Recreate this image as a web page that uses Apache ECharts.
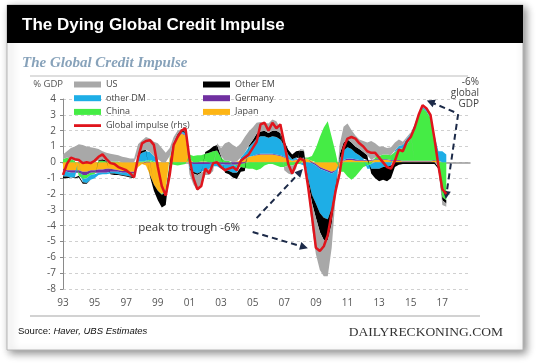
<!DOCTYPE html>
<html>
<head>
<meta charset="utf-8">
<script src="https://cdn.jsdelivr.net/npm/echarts@6/dist/echarts.min.js"></script>
<style>
html,body{margin:0;padding:0;background:#fff;}
#c{width:540px;height:363px;}
</style>
</head>
<body>
<div id="c"></div>
<script>
// Quarterly data, 1993 Q1 .. 2017 Q2 (% of GDP)
const startYear = 1993;
const endYear = 2018; // axis runs to 2018 Q4
const JAPAN = [
  -0.4,-0.5,-0.5,-0.5,  -0.5,-0.6,-0.6,-0.5,  -0.5,-0.45,-0.45,-0.4,  -0.4,-0.45,-0.5,-0.55,
  -0.55,-0.6,-0.6,-0.3, -0.1,-0.2,-0.8,-1.4,  -1.8,-2.0,-1.7,0.3,     1.2,1.6,1.8,1.7,
  0.2,0.0,0.0,0.05,     0.05,0.0,0.0,0.05,    0.0,0.0,0.0,0.0,        0.05,0.1,0.2,0.35,
  0.4,0.45,0.5,0.5,     0.5,0.5,0.45,0.4,     0.3,0.2,0.1,0.15,       0.2,0.25,0.2,0.1,
  -0.1,-0.3,-0.4,-0.5,  -0.6,-0.5,-0.3,0.1,   0.15,0.15,0.1,0.1,      0.1,0.1,0.1,0.15,
  0.15,0.15,0.15,0.1,   0.1,0.1,0.05,0.05,    0.05,0.05,0.05,0.05,    0.05,0.05,0.1,0.1,
  0.0,0.0
];
const GERMANY = [
  -0.1,-0.1,-0.15,-0.15, -0.15,-0.2,-0.2,-0.15, -0.15,-0.2,-0.2,-0.25, -0.2,-0.15,-0.1,-0.1,
  -0.1,-0.1,-0.1,0.0,    0.0,0.05,0.05,0.0,     0.0,0.0,0.0,0.0,       0.0,0.05,0.05,0.05,
  -0.05,-0.1,-0.1,-0.1,  -0.1,-0.1,-0.05,-0.05, -0.1,-0.15,-0.15,-0.15, -0.15,-0.1,-0.05,0.0,
  0.0,0.05,0.05,0.05,    0.05,0.05,0.05,0.05,   0.05,0.0,0.0,0.05,     0.05,0.05,0.0,-0.05,
  -0.1,-0.1,-0.1,-0.1,   -0.1,-0.05,0.0,0.05,   0.1,0.1,0.1,0.05,      0.05,0.05,0.05,0.05,
  0.05,0.05,0.05,0.05,   0.05,0.05,0.05,0.05,   0.05,0.05,0.05,0.05,   0.05,0.05,0.05,0.0,
  0.0,0.0
];
const CHINA = [
  0.2,0.3,0.2,0.1,       -0.2,-0.25,-0.2,-0.15, -0.1,0.1,0.1,0.05,     0.05,0.05,0.05,0.0,
  0.0,-0.05,-0.05,0.05,  0.05,0.05,0.1,0.05,    0.0,-0.05,-0.1,-0.1,   -0.15,-0.2,-0.15,-0.1,
  0.3,0.4,0.45,0.4,      0.5,0.6,0.7,0.7,       0.3,0.1,0.1,0.0,       -0.1,-0.2,-0.3,-0.4,
  -0.4,-0.5,-0.4,-0.2,   -0.1,-0.1,-0.2,-0.3,   -0.3,-0.2,-0.2,-0.1,   -0.1,0.0,0.1,0.3,
  0.9,1.6,2.2,2.6,       1.6,0.6,-0.3,-0.6,     -0.9,-1.1,-0.9,-0.6,   -0.3,-0.2,-0.1,0.1,
  0.2,0.3,0.3,0.3,       0.5,0.7,0.8,1.0,       1.4,2.1,2.9,3.3,       3.1,2.7,1.4,-0.3,
  -2.2,-2.4
];
const OTHER_DM = [
  -0.4,-0.3,-0.3,-0.3,   0.1,-0.2,-0.3,-0.3,    -0.25,-0.15,-0.1,-0.1, -0.1,-0.1,-0.15,-0.15,
  -0.2,-0.15,-0.15,0.4,  0.55,0.6,0.5,0.35,     0.2,0.0,-0.1,0.1,      0.1,0.1,0.1,0.1,
  -0.3,-0.5,-0.6,-0.5,   -0.4,-0.3,-0.2,-0.2,   -0.3,-0.4,-0.4,-0.5,   -0.4,0.2,0.4,0.6,
  0.8,1.0,1.1,1.1,       1.0,1.1,1.1,1.0,       0.7,0.3,0.1,0.1,       0.0,-0.2,-1.0,-2.0,
  -2.4,-2.8,-3.0,-3.0,   -2.2,-0.9,0.2,0.6,     0.7,0.6,0.4,0.3,       0.1,-0.2,-0.3,-0.4,
  -0.4,-0.3,-0.3,-0.2,   0.1,0.2,0.2,0.4,       0.3,0.2,0.1,0.1,       0.1,0.1,0.2,0.6,
  0.7,0.5
];
const OTHER_EM = [
  -0.1,-0.1,0.0,-0.05,   -0.1,-0.1,-0.05,0.0,   0.0,0.05,0.1,0.05,     -0.05,-0.1,-0.05,-0.05,
  -0.05,-0.05,-0.1,0.1,  0.15,0.1,-0.1,-0.4,    -0.6,-0.8,-0.8,-0.4,   0.0,0.05,0.05,0.1,
  -0.1,-0.1,-0.1,-0.05,  0.1,0.2,0.3,0.35,      0.1,-0.1,-0.2,-0.3,    -0.4,-0.3,-0.2,0.1,
  0.2,0.3,0.3,0.35,      0.3,0.35,0.4,0.4,      0.3,0.3,0.3,0.4,       0.5,0.4,-0.2,-0.5,
  -0.9,-1.2,-1.4,-1.3,   -1.0,-0.4,0.3,0.5,     0.5,0.4,0.4,0.4,       0.4,0.3,-0.3,-0.6,
  -0.8,-0.8,-0.9,-0.8,   -0.3,-0.15,-0.1,-0.1,  -0.1,-0.1,-0.1,-0.1,   -0.1,-0.1,-0.1,-0.1,
  -0.2,-0.2
];
const US = [
  0.3,0.4,0.7,0.9,       1.05,1.1,1.0,0.95,     0.9,0.7,0.5,0.5,       0.5,0.45,0.4,0.35,
  0.3,0.25,0.25,0.6,     0.65,0.8,0.85,0.9,     1.0,0.9,0.6,0.5,       0.3,0.2,0.1,0.15,
  -0.3,-0.7,-1.0,-0.9,   -0.3,-0.4,-0.3,0.1,    0.5,1.1,1.2,1.1,       0.9,0.9,1.0,0.9,
  0.8,0.7,0.6,0.5,       0.6,0.7,0.6,0.3,       -0.2,-0.5,-0.6,-0.3,   0.1,0.1,-0.5,-1.5,
  -2.3,-2.4,-2.3,-2.3,   -1.5,-0.3,0.6,1.0,     1.0,0.8,0.7,0.6,       0.7,0.8,1.2,0.9,
  0.6,0.5,0.4,0.5,       0.5,0.4,0.2,0.1,       0.1,0.0,0.0,0.0,       0.0,0.0,0.0,0.0,
  -0.3,-0.2
];
const GLOBAL_IMPULSE = [
  -0.8,-0.1,0.3,0.2,     0.15,-0.05,0.0,-0.05,  0.1,0.35,0.5,0.2,      -0.05,-0.1,-0.3,-0.4,
  -0.5,-0.7,-0.95,0.3,   1.2,1.35,1.4,1.1,      -0.3,-1.5,-2.1,-0.8,   1.1,1.6,2.0,2.15,
  0.25,-1.0,-1.7,-1.5,   -0.4,-0.7,-0.05,0.0,   -0.3,-0.5,-0.4,-0.3,   -0.5,0.1,0.3,0.5,
  0.9,1.3,2.4,2.5,       2.0,2.5,2.15,2.4,      1.2,-0.1,-0.7,-0.1,    0.25,0.1,-1.5,-3.4,
  -5.4,-5.6,-5.3,-4.6,   -3.2,-1.8,-0.7,0.9,    1.5,1.6,1.5,1.2,       1.0,0.7,0.6,0.6,
  0.3,0.0,-0.3,-0.4,     0.1,0.8,0.7,1.3,       1.6,2.2,3.0,3.6,       3.4,3.0,1.5,-0.2,
  -1.7,-2.0
];
const yTicks = { min: -8, max: 4, step: 1 };

// category list: one per quarter, labelled every second year
const quarters = [];
for (let y = startYear; y <= endYear; y++) for (let q = 1; q <= 4; q++) quarters.push(y + 'Q' + q);
const qIndex = t => (t - startYear) * 4; // decimal year -> category position (for annotations)

const chart = echarts.init(document.getElementById('c'), null, { renderer: 'canvas' });

function area(name, data, color) {
  return {
    name, type: 'line', stack: 'total', stackStrategy: 'samesign',
    data: data, symbol: 'none', showSymbol: false,
    lineStyle: { width: 0, color }, itemStyle: { color },
    areaStyle: { color, opacity: 1 }, emphasis: { disabled: true }, silent: true
  };
}

const legendText = { fontSize: 9, color: '#444', fontFamily: 'Open Sans', lineHeight: 11 };
const lineIcon = 'path://M0,0 L0,0 M0,6 L0,6 M0,1.6 L27,1.6 L27,4.4 L0,4.4 Z';

const option = {
  animation: false,
  textStyle: { fontFamily: 'Open Sans' },
  grid: { left: 63, right: 70, top: 99, bottom: 74 },
  legend: [
    { orient: 'vertical', left: 74, top: 79, padding: 0, itemGap: 2.7, itemWidth: 27, itemHeight: 6,
      selectedMode: false, textStyle: legendText,
      data: [{ name: 'US', icon: 'rect' }, { name: 'other DM', icon: 'rect' },
             { name: 'China', icon: 'rect' }, { name: 'Global impulse (rhs)', icon: lineIcon }] },
    { orient: 'vertical', left: 203, top: 79, padding: 0, itemGap: 2.7, itemWidth: 27, itemHeight: 6,
      selectedMode: false, textStyle: legendText,
      data: [{ name: 'Other EM', icon: 'rect' }, { name: 'Germany', icon: 'rect' },
             { name: 'Japan', icon: 'rect' }] }
  ],
  xAxis: [
    { type: 'category', data: quarters, boundaryGap: false,
      axisLine: { show: false, onZero: false }, axisTick: { show: false }, splitLine: { show: false },
      axisLabel: { fontSize: 10, color: '#555', margin: 9, interval: i => i % 8 === 0,
        formatter: v => v.slice(2, 4) } },
    { type: 'category', data: quarters, boundaryGap: false, position: 'bottom',
      axisLine: { show: true, onZero: true, lineStyle: { color: '#9a9a9a', width: 1.5 } },
      axisTick: { show: false }, axisLabel: { show: false }, splitLine: { show: false } }
  ],
  yAxis: {
    type: 'value', min: yTicks.min, max: yTicks.max, interval: yTicks.step,
    name: '% GDP', nameLocation: 'end', nameGap: 15,
    nameTextStyle: { align: 'right', verticalAlign: 'middle', fontSize: 9.5, color: '#555' },
    axisLine: { show: true, lineStyle: { color: '#8a8a8a', width: 1 } },
    axisTick: { show: true, length: 3, lineStyle: { color: '#8a8a8a' } },
    axisLabel: { fontSize: 10, color: '#555', margin: 7 },
    splitLine: { show: true, lineStyle: { color: '#d0d0d0', type: [3, 3], width: 1 } }
  },
  series: [
    area('Japan', JAPAN, '#fdb515'),
    area('Germany', GERMANY, '#7030a0'),
    area('China', CHINA, '#45ec45'),
    area('other DM', OTHER_DM, '#1eaee6'),
    area('Other EM', OTHER_EM, '#000000'),
    area('US', US, '#a8a8a8'),
    {
      name: 'Global impulse (rhs)', type: 'line', data: GLOBAL_IMPULSE,
      symbol: 'none', showSymbol: false, z: 5, silent: true,
      lineStyle: { color: '#e0141c', width: 2.5 }, itemStyle: { color: '#e0141c' },
      emphasis: { disabled: true },
      markLine: {
        silent: true, symbol: ['none', 'triangle'], symbolSize: 8, animation: false,
        label: { show: false },
        lineStyle: { type: [6, 4], color: '#1c2a48', width: 2 },
        emphasis: { disabled: true },
        data: [
          [{ coord: [qIndex(2017.78), 3.18] }, { coord: [qIndex(2016.19), 3.81] }],
          [{ coord: [qIndex(2018.03), 3.05] }, { coord: [qIndex(2017.27), -2.07] }],
          [{ coord: [qIndex(2005.2), -3.52] }, { coord: [qIndex(2007.93), -0.61] }],
          [{ coord: [qIndex(2005.07), -4.4] }, { coord: [qIndex(2008.25), -5.35] }]
        ]
      }
    }
  ],
  graphic: [
    { type: 'rect', z: -10, shape: { x: 7, y: 5, width: 516, height: 345 },
      style: { fill: '#fff', stroke: '#b5b5b5', lineWidth: 1, shadowBlur: 8,
        shadowColor: 'rgba(0,0,0,0.45)', shadowOffsetX: 3, shadowOffsetY: 3 } },
    { type: 'rect', z: -9, shape: { x: 7, y: 5, width: 516, height: 38 }, style: { fill: '#000' } },
    { type: 'text', z: -8, x: 22, y: 25,
      style: { text: 'The Dying Global Credit Impulse', fill: '#fff',
        font: 'bold 17px "Liberation Sans", Arial, sans-serif', verticalAlign: 'middle' } },
    { type: 'text', z: -8, x: 22, y: 63,
      style: { text: 'The Global Credit Impulse', fill: '#87a2ba',
        font: 'italic bold 15px "Liberation Serif", "DejaVu Serif", serif', verticalAlign: 'middle' } },
    { type: 'line', z: -8, shape: { x1: 30, y1: 76, x2: 468, y2: 76 }, style: { stroke: '#dedede', lineWidth: 2 } },
    { type: 'line', z: -8, shape: { x1: 30, y1: 316, x2: 480, y2: 316 }, style: { stroke: '#d2d2d2', lineWidth: 2 } },
    { type: 'text', z: -8, x: 18, y: 331,
      style: { text: '{a|Source: }{b|Haver, UBS Estimates}', verticalAlign: 'middle',
        rich: { a: { font: '9.5px "Liberation Sans", Arial, sans-serif', fill: '#111' },
                b: { font: 'italic 9.5px "Liberation Sans", Arial, sans-serif', fill: '#111' } } } },
    { type: 'text', z: -8, x: 503, y: 332,
      style: { text: 'DAILYRECKONING.COM', fill: '#333', align: 'right', verticalAlign: 'middle',
        font: '13.5px "Liberation Serif", serif' } },
    { type: 'text', z: 10, x: 240, y: 228,
      style: { text: 'peak to trough -6%', fill: '#333', align: 'right', verticalAlign: 'middle',
        font: '11.5px "Open Sans", sans-serif' } },
    { type: 'text', z: 10, x: 479, y: 77,
      style: { text: '-6%\nglobal\nGDP', fill: '#444', align: 'right', verticalAlign: 'top',
        font: '10px "Open Sans", sans-serif', lineHeight: 11 } }
  ]
};
chart.setOption(option);
</script>
</body>
</html>
